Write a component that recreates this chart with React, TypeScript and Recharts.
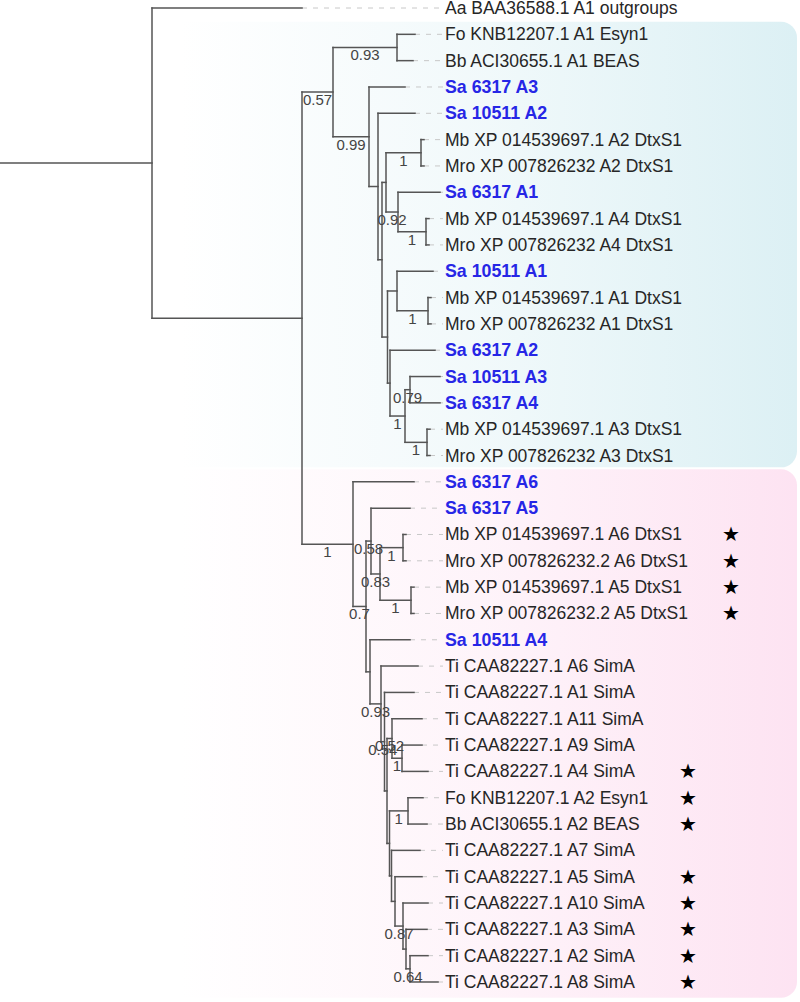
import React from "react";
import {
  ScatterChart,
  Scatter,
  XAxis,
  YAxis,
  ReferenceLine,
  ReferenceArea,
  Rectangle,
} from "recharts";

// leaves, top to bottom
const leafNames = [
  "Aa BAA36588.1 A1 outgroups",
  "Fo KNB12207.1 A1 Esyn1",
  "Bb ACI30655.1 A1 BEAS",
  "Sa 6317 A3",
  "Sa 10511 A2",
  "Mb XP 014539697.1 A2 DtxS1",
  "Mro XP 007826232 A2 DtxS1",
  "Sa 6317 A1",
  "Mb XP 014539697.1 A4 DtxS1",
  "Mro XP 007826232 A4 DtxS1",
  "Sa 10511 A1",
  "Mb XP 014539697.1 A1 DtxS1",
  "Mro XP 007826232 A1 DtxS1",
  "Sa 6317 A2",
  "Sa 10511 A3",
  "Sa 6317 A4",
  "Mb XP 014539697.1 A3 DtxS1",
  "Mro XP 007826232 A3 DtxS1",
  "Sa 6317 A6",
  "Sa 6317 A5",
  "Mb XP 014539697.1 A6 DtxS1",
  "Mro XP 007826232.2 A6 DtxS1",
  "Mb XP 014539697.1 A5 DtxS1",
  "Mro XP 007826232.2 A5 DtxS1",
  "Sa 10511 A4",
  "Ti CAA82227.1 A6 SimA",
  "Ti CAA82227.1 A1 SimA",
  "Ti CAA82227.1 A11 SimA",
  "Ti CAA82227.1 A9 SimA",
  "Ti CAA82227.1 A4 SimA",
  "Fo KNB12207.1 A2 Esyn1",
  "Bb ACI30655.1 A2 BEAS",
  "Ti CAA82227.1 A7 SimA",
  "Ti CAA82227.1 A5 SimA",
  "Ti CAA82227.1 A10 SimA",
  "Ti CAA82227.1 A3 SimA",
  "Ti CAA82227.1 A2 SimA",
  "Ti CAA82227.1 A8 SimA",
];

// cumulative distance from the root to each tip (same units as node depths)
const leafDepths = [
  302, 415, 413, 405, 415, 424, 424, 440, 429, 429, 433, 431, 431, 435, 440,
  440, 430, 430, 414, 410, 406, 406, 414, 414, 410, 418, 414, 422, 422, 428,
  423, 427, 420, 422, 428, 427, 428, 438,
];

// internal nodes: id, depth, upper child, lower child, support
// (a child is a leaf row number or a node id)
type Child = number | string;
const treeNodes: [string, number, Child, Child, number | null][] = [
  ["root", 152, 0, "n1", null],
  ["n1", 302, "n2", "p1", null],
  ["n2", 333, "n3", "n4", 0.57],
  ["n3", 397, 1, 2, 0.93],
  ["n4", 369, 3, "n5", 0.99],
  ["n5", 378, 4, "n6", null],
  ["n6", 382, "n7", "n11", null],
  ["n7", 386, "n8", "n9", null],
  ["n8", 421, 5, 6, 1],
  ["n9", 398, 7, "n10", 0.92],
  ["n10", 426, 8, 9, 1],
  ["n11", 387.5, "n12", "n14", null],
  ["n12", 397, 10, "n13", null],
  ["n13", 428, 11, 12, 1],
  ["n14", 390, 13, "n15", null],
  ["n15", 405, "n16", "n17", 1],
  ["n16", 410, 14, 15, 0.79],
  ["n17", 427, 16, 17, 1],
  ["p1", 353, 18, "p2", 1],
  ["p2", 366, "p3", "p7", 0.7],
  ["p3", 371, 19, "p4", 0.58],
  ["p4", 380, "p5", "p6", 0.83],
  ["p5", 403, 20, 21, 1],
  ["p6", 411, 22, 23, 1],
  ["p7", 370, 24, "p8", null],
  ["p8", 381, 25, "p9", 0.93],
  ["p9", 384.5, 26, "p10", 0.54],
  ["p10", 387, "p11", "p13", null],
  ["p11", 392, 27, "p12", 0.52],
  ["p12", 402, 28, 29, 1],
  ["p13", 389.5, "p14", "p15", null],
  ["p14", 408, 30, 31, 1],
  ["p15", 391.5, 32, "p16", null],
  ["p16", 395, 33, "p17", null],
  ["p17", 403, 34, "p18", 0.87],
  ["p18", 406, 35, "p19", null],
  ["p19", 410, 36, 37, 0.64],
];

const starredDtxS1 = [
  "Mb XP 014539697.1 A6 DtxS1",
  "Mro XP 007826232.2 A6 DtxS1",
  "Mb XP 014539697.1 A5 DtxS1",
  "Mro XP 007826232.2 A5 DtxS1",
];
const starredSimA = [
  "Ti CAA82227.1 A4 SimA",
  "Fo KNB12207.1 A2 Esyn1",
  "Bb ACI30655.1 A2 BEAS",
  "Ti CAA82227.1 A5 SimA",
  "Ti CAA82227.1 A10 SimA",
  "Ti CAA82227.1 A3 SimA",
  "Ti CAA82227.1 A2 SimA",
  "Ti CAA82227.1 A8 SimA",
];

// shaded clades: first row, last row
const clades = [
  { id: "cyan", first: 1, last: 17, color: "#dcf0f4" },
  { id: "pink", first: 18, last: 37, color: "#fde3f2" },
];

const LABEL_X = 445;
const LEADER_END = 443;
const STAR_X_DTXS1 = 731;
const STAR_X_SIMA = 688;
const FONT = "'Liberation Sans', Arial, sans-serif";
const BRANCH = "#555";

// ---- layout ----
const nodeMap: Record<string, { depth: number; a: Child; b: Child; support: number | null }> = {};
treeNodes.forEach(([id, depth, a, b, support]) => {
  nodeMap[id] = { depth, a, b, support };
});

const yOf = (c: Child): number => {
  if (typeof c === "number") return c;
  const n = nodeMap[c];
  return (yOf(n.a) + yOf(n.b)) / 2;
};
const xOf = (c: Child): number =>
  typeof c === "number" ? leafDepths[c] : nodeMap[c].depth;

type Seg = { x1: number; y1: number; x2: number; y2: number };
const branches: Seg[] = [];
const supports: { x: number; y: number; text: string }[] = [];

const rootY = yOf("root");
branches.push({ x1: 0, y1: rootY, x2: nodeMap.root.depth, y2: rootY });
treeNodes.forEach(([id, depth, a, b]) => {
  branches.push({ x1: depth, y1: yOf(a), x2: depth, y2: yOf(b) });
  [a, b].forEach((c) => {
    branches.push({ x1: depth, y1: yOf(c), x2: xOf(c), y2: yOf(c) });
    if (typeof c === "string" && nodeMap[c].support !== null) {
      supports.push({
        x: (depth + nodeMap[c].depth) / 2,
        y: yOf(c),
        text: String(nodeMap[c].support),
      });
    }
  });
});

const leafPoints = leafNames.map((name, i) => ({ x: LABEL_X, y: i, name }));
const starPoints = [
  ...starredDtxS1.map((n) => ({ x: STAR_X_DTXS1, y: leafNames.indexOf(n) })),
  ...starredSimA.map((n) => ({ x: STAR_X_SIMA, y: leafNames.indexOf(n) })),
];

const LeafLabel = (props: any) => {
  const { cx, cy, payload } = props;
  const isSa = payload.name.startsWith("Sa ");
  return (
    <text
      x={cx}
      y={cy + 6}
      fontFamily={FONT}
      fontSize={isSa ? 17.8 : 17.5}
      fontWeight={isSa ? "bold" : "normal"}
      fill={isSa ? "#2626e6" : "#262626"}
    >
      {payload.name}
    </text>
  );
};

const SupportLabel = (props: any) => {
  const { cx, cy, payload } = props;
  return (
    <text x={cx} y={cy + 13} textAnchor="middle" fontFamily={FONT} fontSize={15} fill="#444">
      {payload.text}
    </text>
  );
};

const Star = (props: any) => (
  <text x={props.cx} y={props.cy + 7} textAnchor="middle" fontFamily="DejaVu Sans" fontSize={20} fill="#000">
    ★
  </text>
);

export default function App() {
  return (
    <div style={{ position: "absolute", left: 0, top: 0 }}>
      <ScatterChart width={800} height={1002} margin={{ top: 0, right: 0, bottom: 0, left: 0 }}>
        <defs>
          {clades.map((c) => (
            <linearGradient key={c.id} id={`grad-${c.id}`} x1="0" y1="0" x2="1" y2="0">
              <stop offset="0%" stopColor={c.color} stopOpacity={0} />
              <stop offset="50%" stopColor={c.color} stopOpacity={0.4} />
              <stop offset="100%" stopColor={c.color} stopOpacity={1} />
            </linearGradient>
          ))}
        </defs>
        <XAxis type="number" dataKey="x" domain={[0, 800]} hide allowDataOverflow />
        <YAxis type="number" dataKey="y" domain={[-0.304, 37.76]} reversed hide allowDataOverflow />
        {clades.map((c) => (
          <ReferenceArea
            key={c.id}
            x1={180}
            x2={797}
            y1={c.first - 0.5 + 0.02}
            y2={c.last + 0.5 + (c.id === "pink" ? 0.1 : -0.05)}
            ifOverflow="visible"
            shape={(p: any) => (
              <Rectangle
                x={p.x}
                y={p.y}
                width={p.width}
                height={p.height}
                radius={[0, 16, 16, 0]}
                fill={`url(#grad-${c.id})`}
                stroke="none"
              />
            )}
          />
        ))}
        {leafNames.map((_, i) => (
          <ReferenceLine
            key={`lead-${i}`}
            segment={[
              { x: leafDepths[i], y: i },
              { x: LEADER_END, y: i },
            ]}
            stroke="#c8c8c8"
            strokeWidth={1}
            strokeDasharray="5 6"
            ifOverflow="visible"
          />
        ))}
        {branches.map((s, i) => (
          <ReferenceLine
            key={`br-${i}`}
            segment={[
              { x: s.x1, y: s.y1 },
              { x: s.x2, y: s.y2 },
            ]}
            stroke={BRANCH}
            strokeWidth={1.5}
            strokeLinecap="square"
            ifOverflow="visible"
          />
        ))}
        <Scatter data={leafPoints} shape={LeafLabel} isAnimationActive={false} />
        <Scatter data={supports} shape={SupportLabel} isAnimationActive={false} />
        <Scatter data={starPoints} shape={Star} isAnimationActive={false} />
      </ScatterChart>
    </div>
  );
}
